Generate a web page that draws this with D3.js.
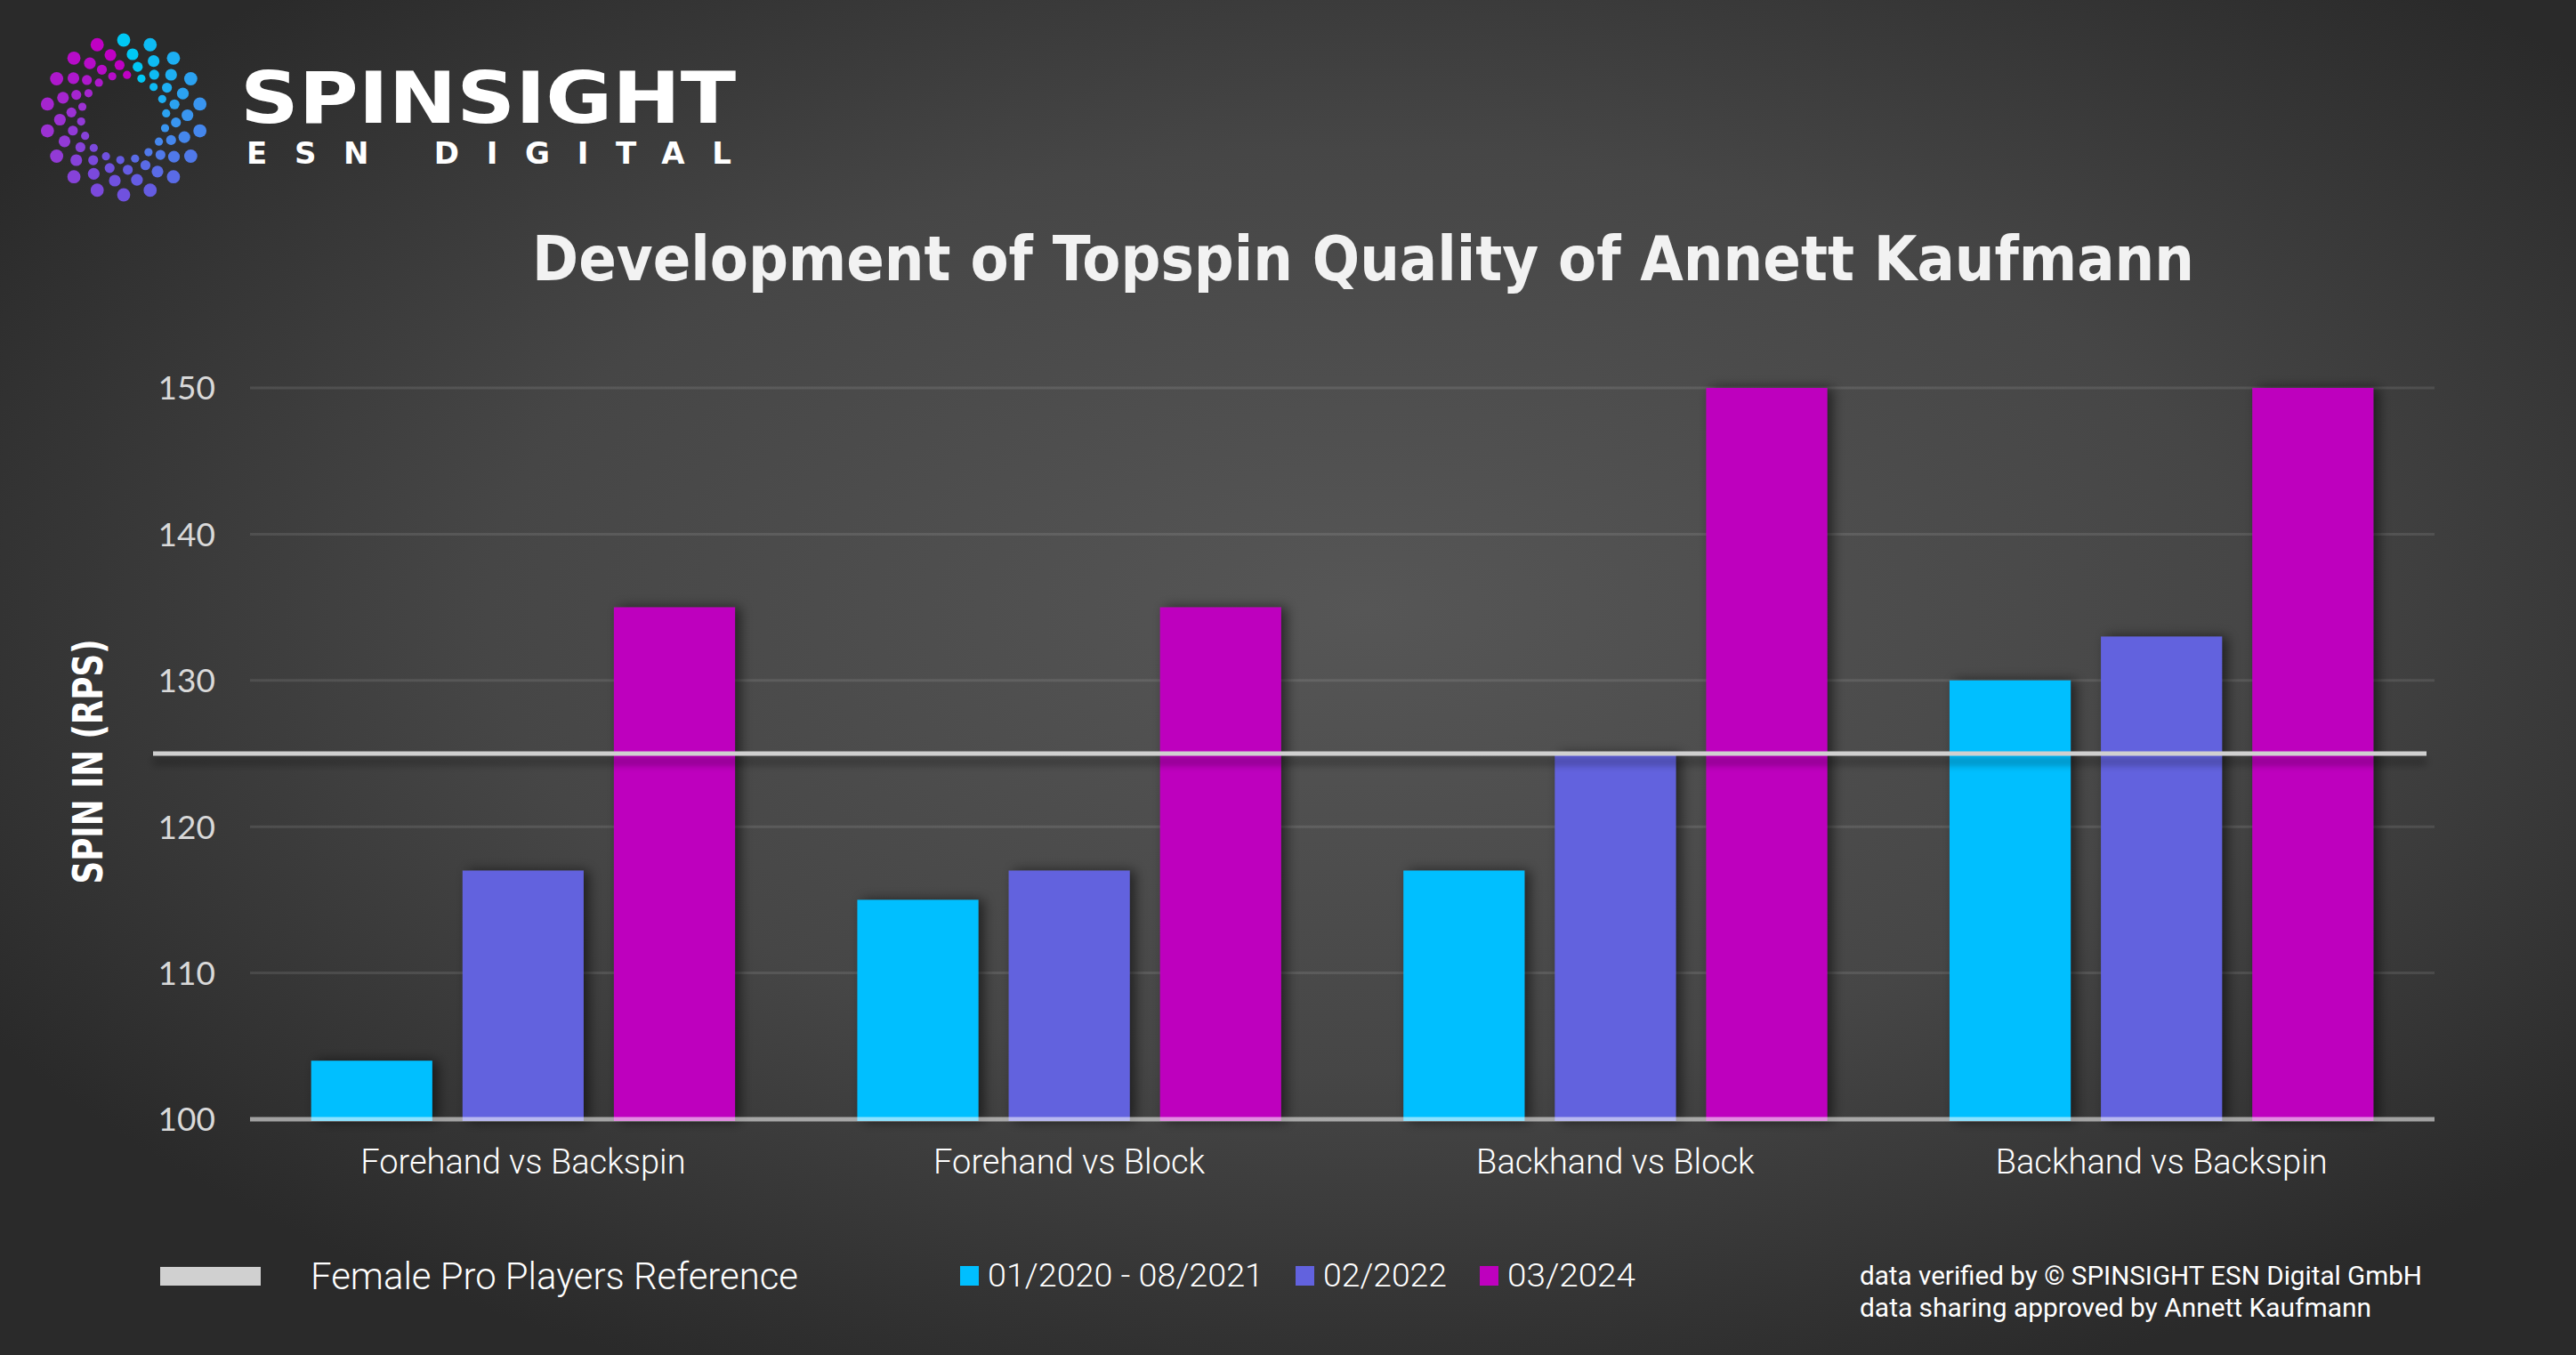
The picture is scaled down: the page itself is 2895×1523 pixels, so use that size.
<!DOCTYPE html>
<html>
<head>
<meta charset="utf-8">
<script src="https://cdn.jsdelivr.net/npm/d3@7"></script>
<style>
  html, body { margin: 0; padding: 0; background: #2c2c2c; overflow: hidden; }
  svg { display: block; }
</style>
</head>
<body>
<svg id="chart" width="2895" height="1523"></svg>
<script>
// ---- data ----
const categories = ["Forehand vs Backspin", "Forehand vs Block", "Backhand vs Block", "Backhand vs Backspin"];
const seriesNames = ["01/2020 - 08/2021", "02/2022", "03/2024"];
const series2020_2021 = [104, 115, 117, 130];
const series2022 = [117, 117, 125, 133];
const series2024 = [135, 135, 150, 150];
const referenceValue = 125;
const referenceLabel = "Female Pro Players Reference";
const yTicks = [100, 110, 120, 130, 140, 150];
const seriesColors = ["#00BFFF", "#6262DE", "#BE00BE"];
const title = "Development of Topspin Quality of Annett Kaufmann";
const yTitle = "SPIN IN (RPS)";
const footer = ["data verified by \u00A9 SPINSIGHT ESN Digital GmbH", "data sharing approved by Annett Kaufmann"];

const seriesValues = [series2020_2021, series2022, series2024];

const W = 2895, H = 1523;
const svg = d3.select("#chart");
const defs = svg.append("defs");

// background gradient
const bg = defs.append("radialGradient").attr("id", "bg")
  .attr("cx", "0.53").attr("cy", "0.45").attr("r", "0.62");
bg.append("stop").attr("offset", "0").attr("stop-color", "#565656");
bg.append("stop").attr("offset", "0.55").attr("stop-color", "#464646");
bg.append("stop").attr("offset", "1").attr("stop-color", "#2a2a2a");
svg.append("rect").attr("width", W).attr("height", H).attr("fill", "url(#bg)");

// shadows
const fBar = defs.append("filter").attr("id", "barShadow")
  .attr("filterUnits", "userSpaceOnUse")
  .attr("x", 0).attr("y", 0).attr("width", W).attr("height", H);
fBar.append("feDropShadow").attr("dx", 6).attr("dy", 0).attr("stdDeviation", 7)
  .attr("flood-color", "#000").attr("flood-opacity", 0.55);
const fLine = defs.append("filter").attr("id", "lineShadow")
  .attr("filterUnits", "userSpaceOnUse")
  .attr("x", 0).attr("y", 0).attr("width", W).attr("height", H);
fLine.append("feDropShadow").attr("dx", 0).attr("dy", 9).attr("stdDeviation", 5)
  .attr("flood-color", "#000").attr("flood-opacity", 0.45);

// ---- scales ----
const plotLeft = 281, plotRight = 2736, plotTop = 436, plotBottom = 1258;
const x0 = d3.scaleBand().domain(categories).range([plotLeft, plotRight]).padding(0);
const x1 = d3.scaleBand().domain(d3.range(seriesNames.length))
  .range([0, x0.bandwidth()]).paddingInner(0.2).paddingOuter(0.404);
const y = d3.scaleLinear().domain([100, 150]).range([plotBottom, plotTop]);

// gridlines
svg.append("g").selectAll("line").data(yTicks.filter(t => t !== 100)).join("line")
  .attr("x1", plotLeft).attr("x2", plotRight)
  .attr("y1", d => y(d)).attr("y2", d => y(d))
  .attr("stroke", "#ffffff").attr("stroke-opacity", 0.1).attr("stroke-width", 3);

// y tick labels
const yAxis = d3.axisLeft(y).tickValues(yTicks).tickSize(0).tickPadding(0);
const gy = svg.append("g").attr("transform", `translate(242,0)`).call(yAxis);
gy.select(".domain").remove();
gy.selectAll("text").attr("font-family", "Lato, 'DejaVu Sans', sans-serif")
  .attr("font-size", 37).attr("fill", "#d9d9d9").attr("dy", "0.35em");

// bars
const barData = [];
seriesValues.forEach((vals, s) => vals.forEach((v, i) => barData.push({ cat: categories[i], s, v })));
svg.append("g").attr("filter", "url(#barShadow)").selectAll("rect").data(barData).join("rect")
  .attr("x", d => x0(d.cat) + x1(d.s))
  .attr("width", x1.bandwidth())
  .attr("y", d => y(d.v))
  .attr("height", d => y(100) - y(d.v) + 2)
  .attr("fill", d => seriesColors[d.s]);

// baseline (semi-transparent over bars)
svg.append("line").attr("x1", plotLeft).attr("x2", plotRight)
  .attr("y1", y(100)).attr("y2", y(100))
  .attr("stroke", "#ffffff").attr("stroke-opacity", 0.55).attr("stroke-width", 5);

// reference line
svg.append("rect").attr("x", 172).attr("width", 2727 - 172)
  .attr("y", y(referenceValue) - 2.5).attr("height", 5)
  .attr("fill", "#d0d0d0").attr("filter", "url(#lineShadow)");

// category labels
const xAxis = d3.axisBottom(x0).tickSize(0).tickPadding(0);
const gx = svg.append("g").attr("transform", `translate(0,${plotBottom})`).call(xAxis);
gx.select(".domain").remove();
gx.selectAll("text").attr("font-family", "Roboto, 'Open Sans', sans-serif")
  .attr("font-weight", 300).attr("font-size", 38).attr("fill", "#ffffff")
  .attr("dy", 0).attr("y", 61);

// y title
svg.append("text").attr("transform", "translate(115,856) rotate(-90)")
  .attr("text-anchor", "middle")
  .attr("font-family", "'DejaVu Sans Condensed', 'DejaVu Sans', sans-serif")
  .attr("font-stretch", "condensed")
  .attr("font-weight", "bold").attr("font-size", 46).attr("fill", "#ffffff")
  .attr("textLength", 275).attr("lengthAdjust", "spacingAndGlyphs")
  .text(yTitle);

// title
svg.append("text").attr("x", 1532).attr("y", 315).attr("text-anchor", "middle")
  .attr("font-family", "'DejaVu Sans Condensed', 'DejaVu Sans', sans-serif")
  .attr("font-stretch", "condensed")
  .attr("font-weight", "bold").attr("font-size", 70).attr("fill", "#f2f2f2")
  .attr("textLength", 1868).attr("lengthAdjust", "spacingAndGlyphs")
  .text(title);

// legend: reference
svg.append("rect").attr("x", 180).attr("y", 1424).attr("width", 113).attr("height", 21).attr("fill", "#d0d0d0");
svg.append("text").attr("x", 349).attr("y", 1449)
  .attr("font-family", "Roboto, 'Open Sans', sans-serif").attr("font-weight", 300)
  .attr("font-size", 43).attr("fill", "#ffffff")
  .attr("textLength", 548).attr("lengthAdjust", "spacingAndGlyphs")
  .text(referenceLabel);

// legend: series
const legendX = [1079, 1456, 1663];
const legendW = [310, 139, 144];
const lg = svg.append("g").selectAll("g").data(seriesNames).join("g")
  .attr("transform", (d, i) => `translate(${legendX[i]},0)`);
lg.append("rect").attr("x", 0).attr("y", 1423).attr("width", 21).attr("height", 22)
  .attr("fill", (d, i) => seriesColors[i]);
lg.append("text").attr("x", 31).attr("y", 1446)
  .attr("font-family", "Roboto, 'Open Sans', sans-serif").attr("font-weight", 300)
  .attr("font-size", 37).attr("fill", "#ffffff")
  .attr("textLength", (d, i) => legendW[i]).attr("lengthAdjust", "spacingAndGlyphs")
  .text(d => d);

// footer
svg.append("g").selectAll("text").data(footer).join("text")
  .attr("x", 2090).attr("y", (d, i) => 1444 + i * 36)
  .attr("font-family", "Roboto, 'Open Sans', sans-serif").attr("font-weight", 400)
  .attr("font-size", 29).attr("fill", "#ffffff")
  .attr("textLength", (d, i) => [632, 575][i]).attr("lengthAdjust", "spacingAndGlyphs")
  .text(d => d);

// ---- logo (decorative) ----
const logo = svg.append("g").attr("transform", "translate(139,132)");
const armCount = 18;
const ringR = [87, 71.7, 59, 48];
const ringOff = [0, 8, 15.5, 24.5];
const ringSize = [7.4, 6.6, 5.6, 4.6];
const logoColor = d3.scaleLinear().domain([0, 0.25, 0.5, 0.75, 1])
  .range(["#00c8f5", "#3d92f0", "#6a55e0", "#9a34d4", "#c000c4"]).interpolate(d3.interpolateRgb);
const dots = [];
for (let k = 0; k < armCount; k++) {
  for (let j = 0; j < 4; j++) {
    const a = (-90 + k * 20 + ringOff[j]) * Math.PI / 180;
    dots.push({ x: ringR[j] * Math.cos(a), y: ringR[j] * Math.sin(a), r: ringSize[j], c: logoColor(k / (armCount - 1)) });
  }
}
logo.selectAll("circle").data(dots).join("circle")
  .attr("cx", d => d.x).attr("cy", d => d.y).attr("r", d => d.r).attr("fill", d => d.c);

svg.append("text").attr("x", 270).attr("y", 138)
  .attr("font-family", "'DejaVu Sans', sans-serif").attr("font-weight", "bold")
  .attr("font-size", 80).attr("fill", "#ffffff")
  .attr("textLength", 557).attr("lengthAdjust", "spacingAndGlyphs")
  .text("SPINSIGHT");
svg.append("text").attr("x", 277).attr("y", 184)
  .attr("font-family", "'DejaVu Sans', sans-serif").attr("font-weight", "bold")
  .attr("font-size", 34).attr("fill", "#ffffff")
  .attr("textLength", 545).attr("lengthAdjust", "spacing")
  .text("ESN  DIGITAL");
</script>
</body>
</html>
